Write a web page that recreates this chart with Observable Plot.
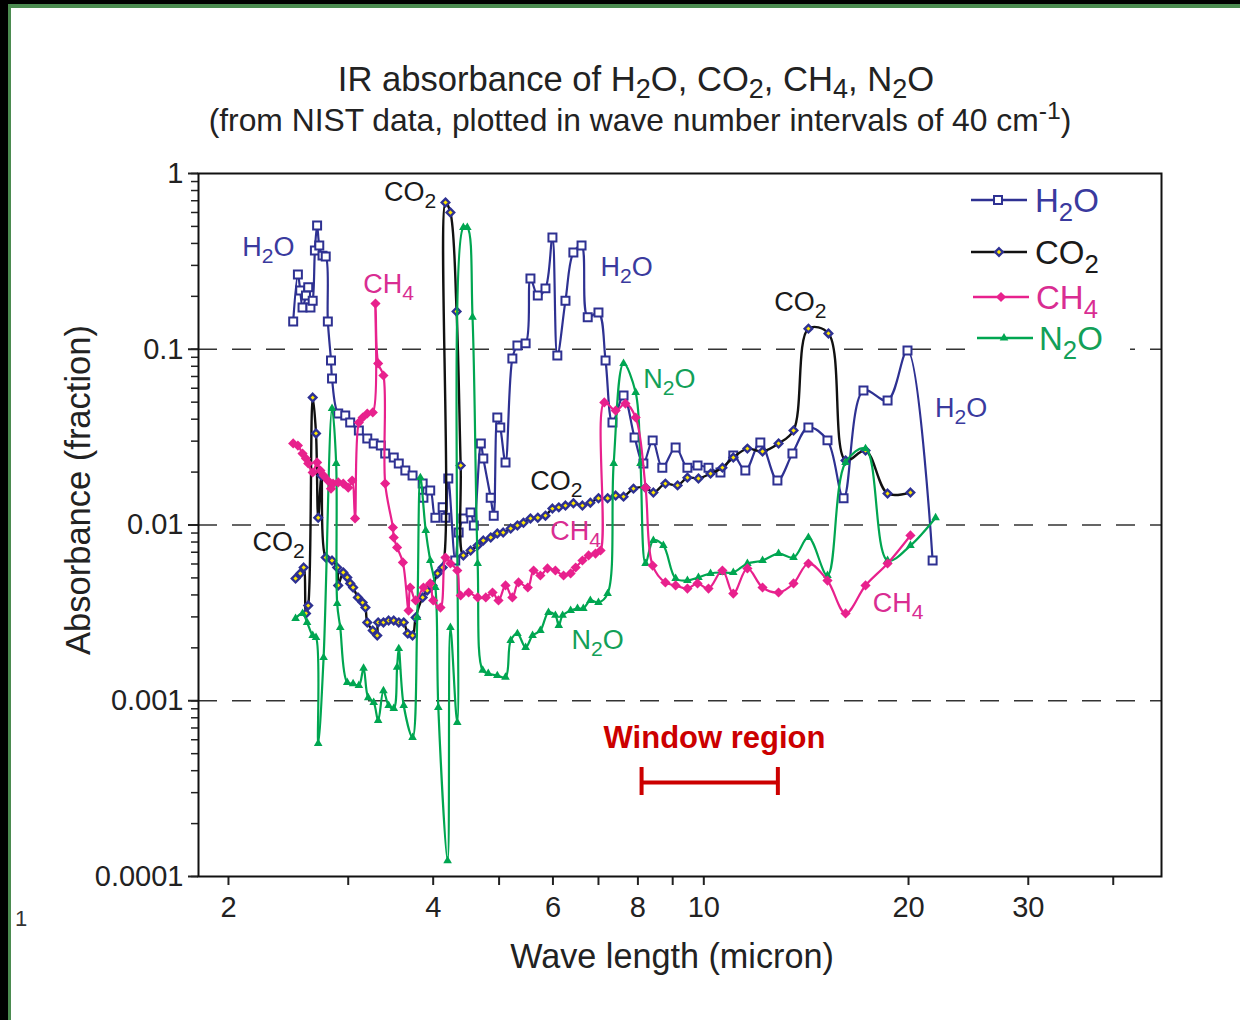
<!DOCTYPE html>
<html><head><meta charset="utf-8">
<script src="https://cdn.jsdelivr.net/npm/d3@7"></script>
<script src="https://cdn.jsdelivr.net/npm/@observablehq/plot@0.6"></script>
<style>
html,body{margin:0;padding:0;background:#000;}
#page{position:absolute;left:0;top:0;width:1240px;height:1020px;overflow:hidden;background:#000;}
#paper{position:absolute;left:8px;top:4px;right:0;bottom:0;background:#fff;border-top:4px solid #4b8b50;border-left:3px solid #4b8b50;}
#chart{position:absolute;left:0;top:0;}
</style></head><body>
<div id="page"><div id="paper"></div><div id="chart"></div></div>
<script>
// ---------- data (wavelength in micron, absorbance fraction) ----------
const h2oWl = [2.49,2.53,2.55,2.57,2.60,2.62,2.64,2.66,2.68,2.70,2.72,2.75,2.78,2.80,2.83,2.84,2.90,2.97,3.02,3.11,3.20,3.27,3.35,3.40,3.50,3.56,3.64,3.73,3.86,3.87,3.96,4.03,4.13,4.17,4.21,4.31,4.36,4.43,4.54,4.59,4.70,4.74,4.86,4.91,4.97,5.02,5.11,5.23,5.32,5.47,5.56,5.70,5.85,5.99,6.09,6.26,6.43,6.61,6.75,7.00,7.17,7.34,7.62,7.91,8.15,8.41,8.69,9.09,9.46,9.79,10.16,10.58,11.05,11.51,12.11,12.83,13.50,14.25,15.20,16.05,17.17,18.63,19.93,21.70];
const h2oAbs = [0.144,0.266,0.216,0.173,0.202,0.225,0.173,0.189,0.365,0.506,0.389,0.341,0.337,0.144,0.0863,0.0682,0.0431,0.0420,0.0383,0.0345,0.0311,0.0291,0.0283,0.0255,0.0242,0.0224,0.0204,0.0191,0.0172,0.0143,0.0157,0.0110,0.0126,0.0110,0.0184,0.00628,0.00906,0.0109,0.0118,0.00994,0.0291,0.0239,0.0143,0.0113,0.0409,0.0359,0.0227,0.0886,0.105,0.108,0.253,0.202,0.222,0.432,0.0921,0.189,0.355,0.389,0.152,0.162,0.0863,0.0383,0.0545,0.0315,0.0224,0.0303,0.0212,0.0276,0.0212,0.0218,0.0212,0.0199,0.0249,0.0204,0.0295,0.0179,0.0255,0.0359,0.0303,0.0142,0.0582,0.0511,0.0984,0.00628];

const co2Wl = [2.51,2.55,2.58,2.60,2.62,2.66,2.69,2.71,2.74,2.78,2.84,2.89,2.90,2.95,2.99,3.02,3.05,3.10,3.15,3.18,3.20,3.26,3.31,3.32,3.38,3.44,3.50,3.56,3.62,3.67,3.73,3.77,3.86,3.92,3.99,4.06,4.13,4.17,4.24,4.33,4.39,4.43,4.54,4.65,4.74,4.86,4.97,5.07,5.20,5.32,5.43,5.56,5.70,5.85,5.99,6.12,6.26,6.43,6.63,6.81,7.00,7.22,7.42,7.62,7.88,8.21,8.43,8.78,9.15,9.46,9.82,10.23,10.65,11.05,11.59,12.20,12.88,13.55,14.25,15.25,16.16,17.29,18.63,20.13];
const co2Abs = [0.00496,0.00530,0.00573,0.00314,0.00348,0.0531,0.0332,0.0110,0.0191,0.00653,0.00628,0.00573,0.00453,0.00537,0.00503,0.00465,0.00441,0.00387,0.00362,0.00339,0.00279,0.00251,0.00235,0.00279,0.00279,0.00286,0.00286,0.00279,0.00279,0.00241,0.00235,0.00298,0.00387,0.00424,0.00453,0.00530,0.00573,0.684,0.600,0.164,0.0218,0.00671,0.00716,0.00764,0.00816,0.00849,0.00895,0.00906,0.00955,0.00994,0.0103,0.0109,0.0110,0.0113,0.0124,0.0126,0.0129,0.0133,0.0129,0.0134,0.0142,0.0142,0.0147,0.0145,0.0161,0.0163,0.0153,0.0172,0.0168,0.0186,0.0184,0.0196,0.0212,0.0242,0.0272,0.0262,0.0291,0.0345,0.131,0.123,0.0233,0.0265,0.0151,0.0153];

const ch4Wl = [2.49,2.53,2.57,2.60,2.62,2.66,2.70,2.73,2.76,2.80,2.83,2.85,2.90,2.95,3.00,3.04,3.07,3.11,3.15,3.20,3.26,3.29,3.32,3.38,3.40,3.49,3.50,3.54,3.61,3.68,3.70,3.77,3.87,3.96,4.00,4.10,4.17,4.24,4.34,4.39,4.51,4.65,4.78,4.89,4.99,5.11,5.23,5.34,5.51,5.62,5.75,5.89,6.05,6.22,6.37,6.48,6.63,6.77,6.93,7.05,7.14,7.42,7.67,7.94,8.21,8.41,8.78,9.09,9.46,9.79,10.16,10.65,11.05,11.59,12.20,12.88,13.55,14.25,15.20,16.16,17.29,18.63,20.13];
const ch4Abs = [0.0291,0.0283,0.0255,0.0239,0.0224,0.0199,0.0227,0.0204,0.0191,0.0179,0.0161,0.0172,0.0175,0.0172,0.0163,0.0179,0.0109,0.0383,0.0409,0.0431,0.0437,0.182,0.0830,0.0709,0.0172,0.00968,0.00849,0.00745,0.00612,0.00326,0.00441,0.00372,0.00441,0.00465,0.00372,0.00339,0.00653,0.00604,0.00551,0.00397,0.00413,0.00387,0.00387,0.00413,0.00372,0.00453,0.00387,0.00471,0.00441,0.00551,0.00516,0.00566,0.00551,0.00516,0.00530,0.00573,0.00628,0.00671,0.00688,0.00716,0.0498,0.0448,0.0491,0.0409,0.0163,0.00588,0.00471,0.00453,0.00435,0.00465,0.00435,0.00551,0.00407,0.00566,0.00441,0.00413,0.00465,0.00604,0.00483,0.00314,0.00453,0.00604,0.00872];

const n2oWl = [2.51,2.57,2.61,2.66,2.69,2.71,2.76,2.84,2.88,2.89,2.92,2.99,3.05,3.11,3.16,3.21,3.27,3.32,3.38,3.44,3.50,3.54,3.56,3.62,3.73,3.79,3.83,3.90,3.96,4.03,4.07,4.20,4.24,4.34,4.43,4.49,4.57,4.65,4.73,4.82,4.97,5.11,5.20,5.32,5.47,5.60,5.75,5.91,6.05,6.12,6.20,6.37,6.52,6.65,6.81,7.00,7.22,7.37,7.62,7.94,8.07,8.21,8.43,8.72,9.09,9.46,9.82,10.23,10.65,11.05,11.59,12.20,12.88,13.55,14.25,15.20,16.16,17.29,18.63,20.13,21.92];
const n2oAbs = [0.00294,0.00314,0.00279,0.00235,0.00229,0.000571,0.00176,0.0460,0.0224,0.00357,0.00261,0.00127,0.00125,0.00122,0.00153,0.00104,0.000977,0.000772,0.00114,0.000940,0.000903,0.00155,0.00198,0.000940,0.000618,0.00298,0.0186,0.00930,0.00628,0.00441,0.000915,0.000123,0.00261,0.000752,0.493,0.493,0.152,0.00604,0.00149,0.00143,0.00139,0.00136,0.00220,0.00241,0.00201,0.00235,0.00251,0.00318,0.00306,0.00268,0.00306,0.00326,0.00335,0.00335,0.00372,0.00362,0.00407,0.0224,0.0830,0.0567,0.0224,0.00604,0.00816,0.00764,0.00496,0.00483,0.00503,0.00530,0.00537,0.00537,0.00604,0.00628,0.00688,0.00653,0.00849,0.00516,0.0227,0.0272,0.00628,0.00764,0.0110];

// annotations placed in data coordinates
const annotLabels = ["H2O","CO2","CH4","CO2","CO2","CH4","H2O","N2O","CO2","H2O","CH4","N2O"];
const annotWl     = [2.29, 3.70, 3.44, 2.37, 6.07, 6.48, 7.70, 8.90, 13.87, 23.9, 19.3, 6.98];
const annotAbs    = [0.379,0.78, 0.2335,0.00795,0.0177,0.00918,0.292,0.0673,0.1845,0.046,0.00357,0.0022];

// window region
const windowRange = [8.1, 12.85];
const windowLevel = 0.000343;
const windowCap = [0.000417, 0.000289];
const windowLabel = "Window region";
const windowLabelWl = 10.37;
const windowLabelAbs = 0.00061;

// axes
const xTicksLabeled = [2, 4, 6, 8, 10, 20, 30];
const xTicksMinor = [3, 5, 7, 9, 40];
const yTicks = [1, 0.1, 0.01, 0.001, 0.0001];
const yTickLabels = ["1", "0.1", "0.01", "0.001", "0.0001"];
const gridLevels = [0.1, 0.01, 0.001];

const seriesKeys = ["H2O", "CO2", "CH4", "N2O"];
const lineColor = {H2O: "#2e3192", CO2: "#111111", CH4: "#e8218d", N2O: "#00a651"};
const textColor = {H2O: "#3a3a9e", CO2: "#1a1a1a", CH4: "#d92d92", N2O: "#12a058"};
const RED = "#cc0000";

const table = (wl, ab) => wl.map((w, i) => ({wl: w, ab: ab[i]}));
const h2o = table(h2oWl, h2oAbs);
const co2 = table(co2Wl, co2Abs);
const ch4 = table(ch4Wl, ch4Abs);
const n2o = table(n2oWl, n2oAbs);
const annots = annotLabels.map((l, i) => ({label: l, wl: annotWl[i], ab: annotAbs[i]}));

const curve = "catmull-rom";

const plot = Plot.plot({
  width: 1240, height: 1020,
  marginLeft: 198, marginRight: 79, marginTop: 173, marginBottom: 144,
  style: {fontFamily: '"Liberation Sans", Arial, Helvetica, sans-serif', background: "transparent", color: "#222"},
  x: {type: "log", domain: [1.807, 47.1]},
  y: {type: "log", domain: [0.0001, 1]},
  marks: [
    Plot.ruleY(gridLevels, {stroke: "#333", strokeWidth: 1.5, strokeDasharray: "19,15"}),
    Plot.axisY({ticks: 40, tickFormat: () => "", tickSize: 7, strokeWidth: 1.5, label: null}),
    Plot.axisY({ticks: yTicks, tickFormat: d => yTickLabels[yTicks.indexOf(d)], tickSize: 10, tickPadding: 5, fontSize: 29, strokeWidth: 2, label: null}),
    Plot.axisX({ticks: xTicksMinor, tickFormat: () => "", tickSize: 9, strokeWidth: 2, label: null}),
    Plot.axisX({ticks: xTicksLabeled, tickFormat: d => String(d), tickSize: 9, tickPadding: 11, fontSize: 29, strokeWidth: 2, label: null}),

    // window region
    Plot.ruleY([windowLevel], {x1: windowRange[0], x2: windowRange[1], stroke: RED, strokeWidth: 4}),
    Plot.ruleX(windowRange, {y1: windowCap[0], y2: windowCap[1], stroke: RED, strokeWidth: 4}),
    Plot.text([windowLabel], {x: windowLabelWl, y: windowLabelAbs, text: d => d, fill: RED, fontWeight: "bold", fontSize: 31}),

    // H2O
    Plot.line(h2o, {x: "wl", y: "ab", stroke: lineColor.H2O, strokeWidth: 2.2, curve}),
    Plot.dot(h2o, {x: "wl", y: "ab", symbol: "square", r: 4.5, fill: "white", stroke: lineColor.H2O, strokeWidth: 2}),
    // CO2
    Plot.line(co2, {x: "wl", y: "ab", stroke: lineColor.CO2, strokeWidth: 2.4, curve}),
    Plot.dot(co2, {x: "wl", y: "ab", symbol: "diamond2", r: 3.4, fill: "#ffe800", stroke: "#2e3192", strokeWidth: 2.4}),
    // N2O
    Plot.line(n2o, {x: "wl", y: "ab", stroke: lineColor.N2O, strokeWidth: 2.2, curve}),
    Plot.dot(n2o, {x: "wl", y: "ab", symbol: "triangle", r: 3.2, fill: lineColor.N2O, stroke: "none"}),
    // CH4
    Plot.line(ch4, {x: "wl", y: "ab", stroke: lineColor.CH4, strokeWidth: 2.2, curve}),
    Plot.dot(ch4, {x: "wl", y: "ab", symbol: "diamond2", r: 4.6, fill: lineColor.CH4, stroke: "none"}),

    ...seriesKeys.map(k => Plot.text(annots.filter(d => d.label === k), {x: "wl", y: "ab", text: "label", fill: textColor[k], fontSize: 27, ariaLabel: "annotation"})),

    Plot.frame({stroke: "#111", strokeWidth: 2})
  ]
});

document.getElementById("chart").appendChild(plot);

// ---------- rich text (sub/superscripts) ----------
const NS = "http://www.w3.org/2000/svg";
function rich(textEl, s, fs, subShift = 0.26) {
  textEl.textContent = "";
  let off = 0, i = 0;
  const push = (str, kind) => {
    const t = document.createElementNS(NS, "tspan");
    t.textContent = str;
    const target = kind === "sub" ? fs * subShift : kind === "sup" ? -fs * 0.38 : 0;
    if (target !== off) { t.setAttribute("dy", (target - off).toFixed(2)); off = target; }
    if (kind !== "n") t.setAttribute("font-size", (fs * 0.78).toFixed(1));
    textEl.appendChild(t);
  };
  while (i < s.length) {
    const c = s[i];
    if (c === "_" || c === "^") {
      let content;
      if (s[i + 1] === "{") { const j = s.indexOf("}", i); content = s.slice(i + 2, j); i = j + 1; }
      else { content = s[i + 1]; i += 2; }
      push(content, c === "_" ? "sub" : "sup");
    } else {
      let j = i; while (j < s.length && s[j] !== "_" && s[j] !== "^") j++;
      push(s.slice(i, j), "n"); i = j;
    }
  }
}

const svg = d3.select(plot);
svg.selectAll("text").each(function () {
  const t = this.textContent;
  if (/^(H2O|CO2|CH4|N2O)$/.test(t)) rich(this, t.replace(/(\d)/g, "_$1"), 27);
});

const font = '"Liberation Sans", Arial, Helvetica, sans-serif';
function addText(x, y, s, fs, opts = {}) {
  const t = svg.append("text").attr("x", x).attr("y", y)
    .attr("font-family", font).attr("font-size", fs)
    .attr("fill", opts.fill || "#222").attr("text-anchor", opts.anchor || "middle");
  if (opts.transform) t.attr("transform", opts.transform).attr("x", 0).attr("y", 0);
  rich(t.node(), s, fs, opts.subShift);
  return t;
}

// titles
addText(636, 91, "IR absorbance of H_2O, CO_2, CH_4, N_2O", 34.6, {subShift: 0.2});
addText(640, 131, "(from NIST data, plotted in wave number intervals of 40 cm^{-1})", 31.8);
// axis labels
addText(672, 968, "Wave length (micron)", 34.2);
addText(0, 0, "Absorbance (fraction)", 34.5, {transform: "translate(90,490) rotate(-90)"});
// stray page number
addText(21, 926, "1", 22, {fill: "#333"});

// legend
const lg = svg.append("g");
lg.append("rect").attr("x", 966).attr("y", 180).attr("width", 164).attr("height", 180).attr("fill", "#fff");
const legendRows = [
  {key: "H2O", label: "H_2O", y: 200, x1: 971, x2: 1027, mx: 998, tx: 1035, sym: d3.symbolSquare, r: 4.5, fill: "#fff", stroke: lineColor.H2O, sw: 2},
  {key: "CO2", label: "CO_2", y: 252, x1: 971, x2: 1027, mx: 999, tx: 1035, sym: d3.symbolDiamond2, r: 3.4, fill: "#ffe800", stroke: "#2e3192", sw: 2.4},
  {key: "CH4", label: "CH_4", y: 297, x1: 973, x2: 1029, mx: 1001, tx: 1036, sym: d3.symbolDiamond2, r: 4.6, fill: lineColor.CH4, stroke: "none", sw: 0},
  {key: "N2O", label: "N_2O", y: 338, x1: 977, x2: 1033, mx: 1004, tx: 1039, sym: d3.symbolTriangle, r: 3.2, fill: lineColor.N2O, stroke: "none", sw: 0}
];
for (const row of legendRows) {
  lg.append("line").attr("x1", row.x1).attr("x2", row.x2).attr("y1", row.y).attr("y2", row.y)
    .attr("stroke", lineColor[row.key]).attr("stroke-width", 2.4);
  lg.append("path").attr("d", d3.symbol(row.sym, Math.PI * row.r * row.r)())
    .attr("transform", `translate(${row.mx},${row.y})`)
    .attr("fill", row.fill).attr("stroke", row.stroke).attr("stroke-width", row.sw);
  const t = lg.append("text").attr("x", row.tx).attr("y", row.y + 12).attr("text-anchor", "start")
    .attr("font-family", font).attr("font-size", 33).attr("fill", textColor[row.key]);
  rich(t.node(), row.label, 33);
}
</script>
</body></html>
